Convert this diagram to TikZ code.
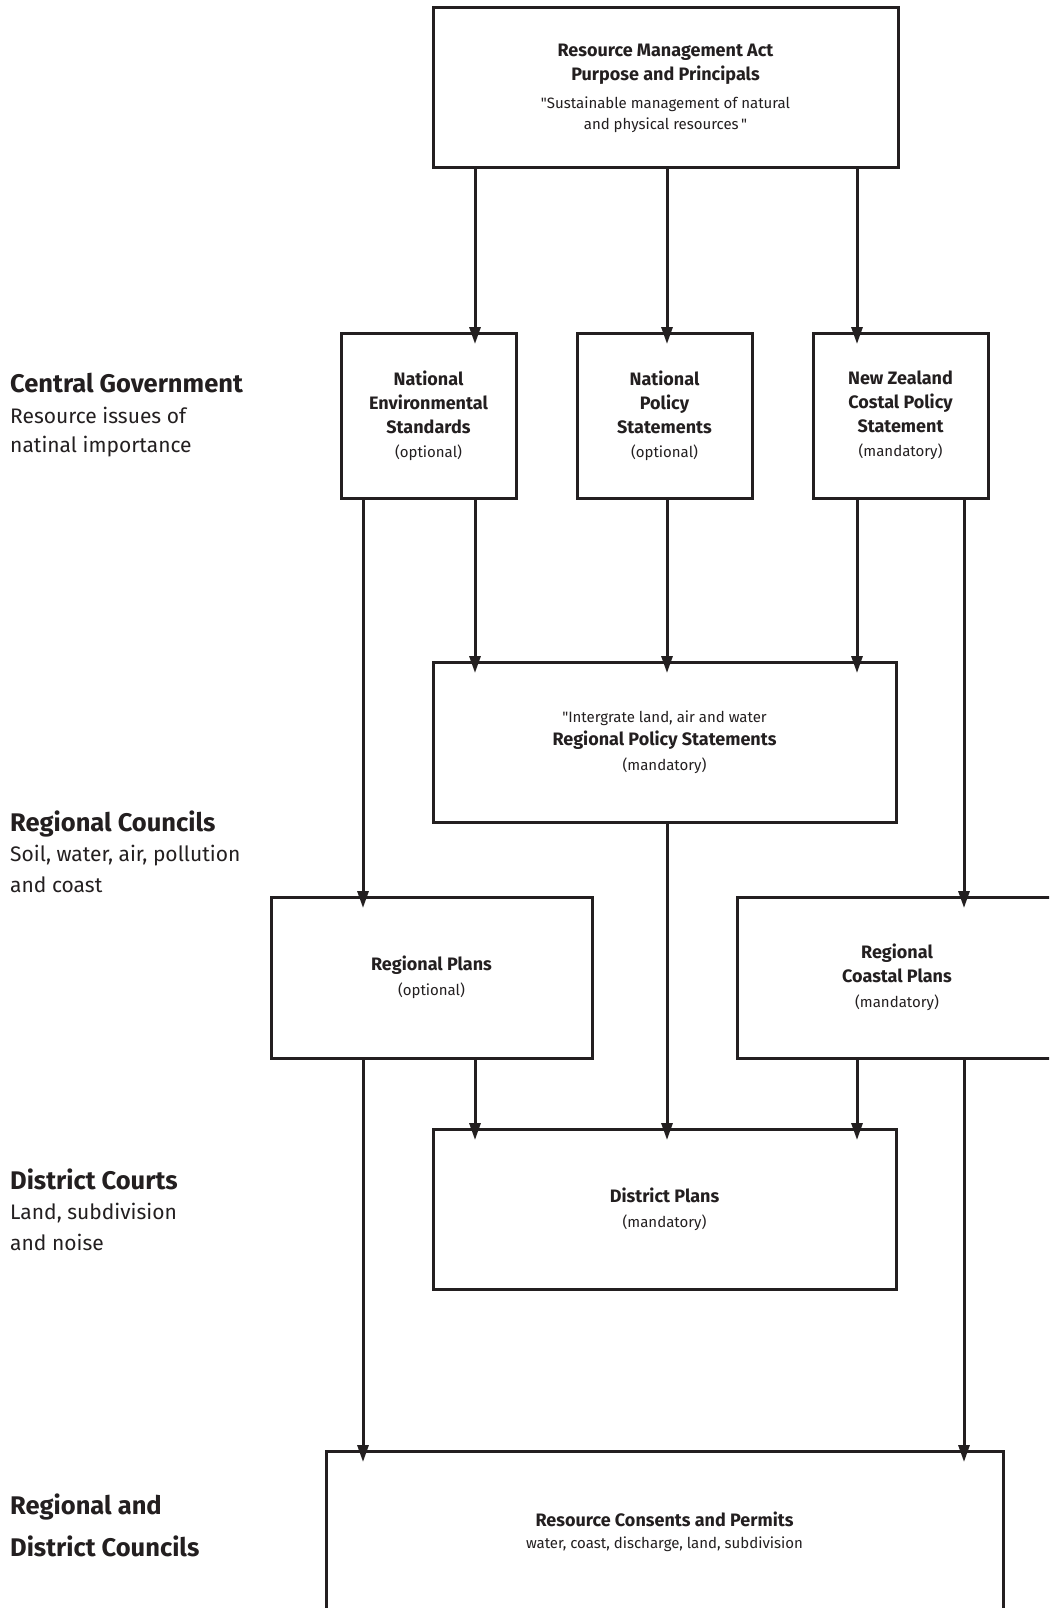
\documentclass[tikz,border=0pt]{standalone}
\usepackage{fontspec}
\setmainfont{Fira Sans}
\usetikzlibrary{arrows.meta,positioning}
\definecolor{ink}{HTML}{231F20}
\newcommand{\bt}[1]{{\fontsize{18}{21}\selectfont\bfseries #1}}
\newcommand{\hdfont}{\fontsize{25.5}{30}\selectfont\bfseries}
\newcommand{\txfont}{\fontsize{21}{30}\selectfont}

\begin{document}
\begin{tikzpicture}[x=1pt,y=-1pt,
	box/.style={draw=ink, line width=3pt, text=ink, align=center, inner sep=0pt,
		font=\fontsize{15}{21}\selectfont},
	arr/.style={draw=ink, line width=3pt, -{Triangle[width=11pt,length=17pt]}, shorten >=-12.5pt},
	lbl/.style={anchor=base west, inner sep=0pt, text=ink}]
	\useasboundingbox (0,0) rectangle (1049,1608);
	\fill[white] (0,0) rectangle (1049,1608);
	\clip (0,0) rectangle (1049,1608);

	% columns of the connectors
	\coordinate (c1) at (363,0);
	\coordinate (c2) at (475,0);
	\coordinate (c3) at (667,0);
	\coordinate (c4) at (857,0);
	\coordinate (c5) at (964,0);

	% boxes
	\node[box, minimum width=465pt, minimum height=160pt] (rma) at (665.5,88)
		{\bt{Resource Management Act}\\[3pt]\bt{Purpose and Principals}\\[7pt]
		\textquotedbl Sustainable management of natural\\and physical resources\,\textquotedbl};
	\node[box, minimum width=175pt, minimum height=165pt] (nps) at (664.5,415.5)
		{\bt{National}\\[3pt]\bt{Policy}\\[3pt]\bt{Statements}\\[3pt](optional)};
	\node[box, minimum width=175pt, minimum height=165pt, left=58pt of nps] (nes)
		{\bt{National}\\[3pt]\bt{Environmental}\\[3pt]\bt{Standards}\\[3pt](optional)};
	\node[box, minimum width=175pt, minimum height=165pt, right=58pt of nps] (nzc)
		{\bt{New Zealand}\\[3pt]\bt{Costal Policy}\\[3pt]\bt{Statement}\\[3pt](mandatory)};
	\node[box, minimum width=463pt, minimum height=160pt] (rps) at (664.5,742)
		{\textquotedbl Intergrate land, air and water\\[2pt]\bt{Regional Policy Statements}\\[4pt](mandatory)};
	\node[box, minimum width=321pt, minimum height=161pt] (rp) at (431.5,977.5)
		{\bt{Regional Plans}\\[4pt](optional)};
	\node[box, minimum width=320pt, minimum height=161pt] (rcp) at (897,977.5)
		{\bt{Regional}\\[3pt]\bt{Coastal Plans}\\[4pt](mandatory)};
	\node[box, minimum width=463pt, minimum height=160pt] (dp) at (664.5,1209)
		{\bt{District Plans}\\[4pt](mandatory)};
	\node[box, minimum width=677pt, minimum height=169pt] (rc) at (664.5,1535.5)
		{\bt{Resource Consents and Permits}\\[1pt]water, coast, discharge, land, subdivision\\[-10pt]};

	% connectors
	\draw[arr] (rma.south -| c2) -- (nes.north -| c2);
	\draw[arr] (rma.south -| c3) -- (nps.north -| c3);
	\draw[arr] (rma.south -| c4) -- (nzc.north -| c4);
	\draw[arr] (nes.south -| c1) -- (rp.north -| c1);
	\draw[arr] (nes.south -| c2) -- (rps.north -| c2);
	\draw[arr] (nps.south -| c3) -- (rps.north -| c3);
	\draw[arr] (nzc.south -| c4) -- (rps.north -| c4);
	\draw[arr] (nzc.south -| c5) -- (rcp.north -| c5);
	\draw[arr] (rps.south -| c3) -- (dp.north -| c3);
	\draw[arr] (rp.south -| c2) -- (dp.north -| c2);
	\draw[arr] (rcp.south -| c4) -- (dp.north -| c4);
	\draw[arr] (rp.south -| c1) -- (rc.north -| c1);
	\draw[arr] (rcp.south -| c5) -- (rc.north -| c5);

	% levels on the left
	\node[lbl, font=\hdfont] (cg) at (10,392) {Central Government};
	\node[lbl, font=\txfont] (cg1) at (10,423) {Resource issues of};
	\node[lbl, font=\txfont] (cg2) at (10,452) {natinal importance};
	\node[lbl, font=\hdfont] (rgc) at (10,831) {Regional Councils};
	\node[lbl, font=\txfont] (rgc1) at (10,861) {Soil, water, air, pollution};
	\node[lbl, font=\txfont] (rgc2) at (10,892) {and coast};
	\node[lbl, font=\hdfont] (dc) at (10,1189) {District Courts};
	\node[lbl, font=\txfont] (dc1) at (10,1219) {Land, subdivision};
	\node[lbl, font=\txfont] (dc2) at (10,1250) {and noise};
	\node[lbl, font=\hdfont] (rdc) at (10,1514) {Regional and};
	\node[lbl, font=\hdfont] (rdc1) at (10,1556) {District Councils};
\end{tikzpicture}
\end{document}
